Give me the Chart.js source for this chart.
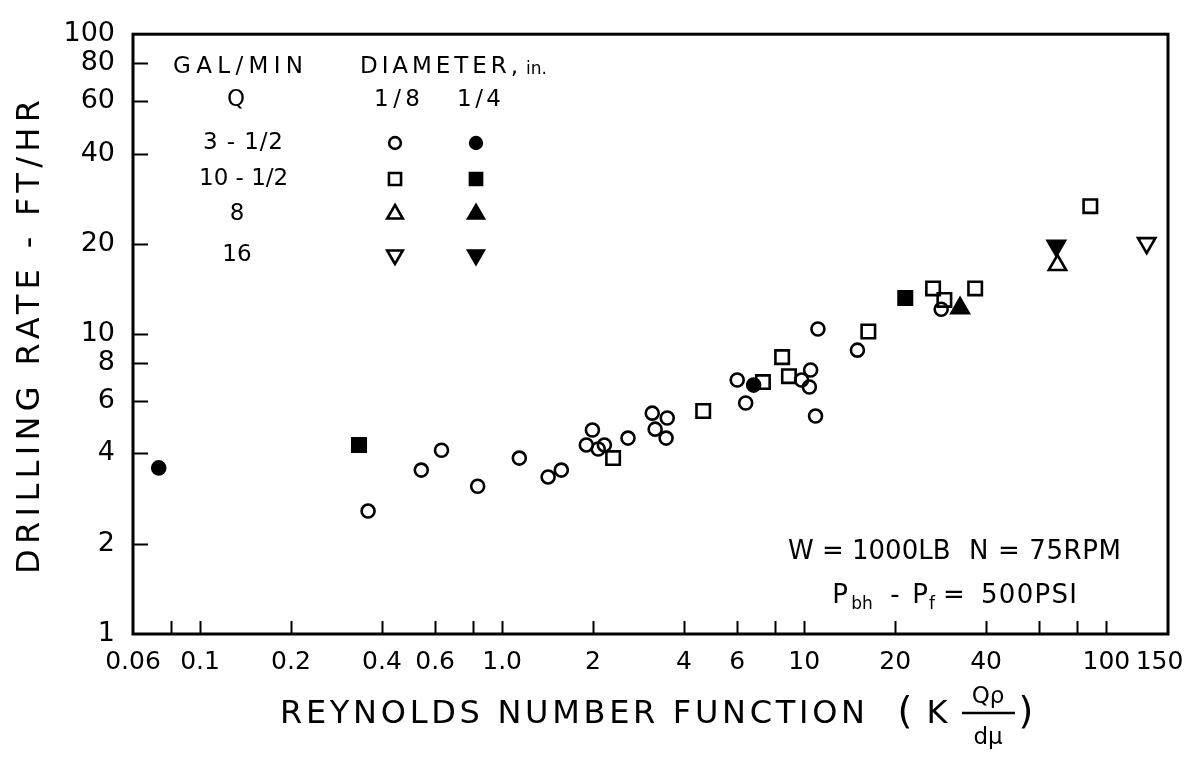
<!DOCTYPE html>
<html>
<head>
<meta charset="utf-8">
<title>Drilling rate vs Reynolds number function</title>
<script src="https://cdn.jsdelivr.net/npm/chart.js@4.4.1/dist/chart.umd.min.js"></script>
<style>
  html, body { margin: 0; padding: 0; background: #fff; }
  #wrap { width: 1200px; height: 763px; }
</style>
</head>
<body>
<div id="wrap"><canvas id="chart" width="1200" height="763"></canvas></div>
<script>
// --- data (x = Reynolds number function, y = drilling rate ft/hr) ---
// Q = 3-1/2 gal/min
const circ18X = [0.36, 0.54, 0.63, 0.83, 1.14, 1.42, 1.57, 1.90, 1.99, 2.08, 2.18, 2.61, 3.14, 3.52, 3.21, 3.49, 6.0, 6.4, 9.8, 10.5, 10.4, 11.1, 10.9, 15.0, 28.4];
const circ18Y = [2.57, 3.52, 4.10, 3.11, 3.86, 3.34, 3.52, 4.27, 4.79, 4.14, 4.27, 4.50, 5.45, 5.25, 4.82, 4.50, 7.03, 5.89, 7.03, 7.59, 6.66, 10.4, 5.33, 8.84, 12.1];
const circ14X = [0.073, 6.8];
const circ14Y = [3.58, 6.76];
// Q = 10-1/2 gal/min
const sq18X = [2.33, 4.63, 7.3, 8.45, 8.9, 16.3, 26.7, 29.1, 36.8, 88.5];
const sq18Y = [3.86, 5.54, 6.92, 8.38, 7.24, 10.2, 14.2, 13.0, 14.2, 26.7];
const sq14X = [0.336, 21.6];
const sq14Y = [4.27, 13.2];
// Q = 8 gal/min
const tri18X = [68.9];
const tri18Y = [17.0];
const tri14X = [32.8];
const tri14Y = [12.2];
// Q = 16 gal/min
const inv18X = [136];
const inv18Y = [20.1];
const inv14X = [68.3];
const inv14Y = [19.7];

// axis ticks
const xLabelVals = [0.06, 0.1, 0.2, 0.4, 0.6, 1, 2, 4, 6, 10, 20, 40, 100, 150];
const xLabelText = ['0.06', '0.1', '0.2', '0.4', '0.6', '1.0', '2', '4', '6', '10', '20', '40', '100', '150'];
const xTickMarks = [0.08, 0.1, 0.2, 0.4, 0.6, 0.8, 1, 2, 4, 6, 8, 10, 20, 40, 60, 80, 100];
const yLabelVals = [1, 2, 4, 6, 8, 10, 20, 40, 60, 80, 100];
const yTickMarks = [2, 4, 6, 8, 10, 20, 40, 60, 80];

// legend key rows
const keyQ = ['3 - 1/2', '10 - 1/2', '8', '16'];

const FONT = "'DejaVu Sans', 'Liberation Sans', sans-serif";

function pts(xs, ys) {
    return xs.map((x, i) => ({ x: x, y: ys[i] }));
}

// marker styles (open = 1/8 in., filled = 1/4 in.)
const styles = {
    circ:  { pointStyle: 'circle',   pointRadius: 6.5, rotation: 0 },
    sq:    { pointStyle: 'rect',     pointRadius: 9.5, rotation: 0 },
    tri:   { pointStyle: 'triangle', pointRadius: 10,  rotation: 0 },
    inv:   { pointStyle: 'triangle', pointRadius: 10,  rotation: 180 }
};

function ds(label, xs, ys, st, filled) {
    return {
        label: label,
        data: pts(xs, ys),
        pointStyle: st.pointStyle,
        pointRadius: st.pointRadius,
        pointHoverRadius: st.pointRadius,
        rotation: st.rotation,
        borderColor: '#000',
        backgroundColor: filled ? '#000' : 'rgba(0,0,0,0)',
        borderWidth: 2.6,
        showLine: false
    };
}

// draw text stretched (by letter spacing) to a given width, starting at x
function spacedText(ctx, str, x, y, width) {
    ctx.letterSpacing = '0px';
    const w = ctx.measureText(str).width;
    const sp = str.length > 1 ? Math.max(0, (width - w) / (str.length - 1)) : 0;
    ctx.letterSpacing = sp + 'px';
    ctx.textAlign = 'left';
    ctx.fillText(str, x, y);
    ctx.letterSpacing = '0px';
}

function keyPoint(ctx, st, filled, x, y) {
    ctx.save();
    ctx.strokeStyle = '#000';
    ctx.fillStyle = filled ? '#000' : 'rgba(0,0,0,0)';
    ctx.lineWidth = 2.6;
    Chart.helpers.drawPoint(ctx, {
        pointStyle: st.pointStyle,
        radius: st.pointRadius * 0.9,
        rotation: st.rotation,
        borderWidth: 2.6
    }, x, y);
    ctx.restore();
}

// frame, inward tick marks, axis titles, key and notes
const decorPlugin = {
    id: 'decor',
    afterDraw(chart) {
        const ctx = chart.ctx;
        const a = chart.chartArea;
        const xs = chart.scales.x;
        const ys = chart.scales.y;
        ctx.save();
        ctx.letterSpacing = '0px';
        ctx.strokeStyle = '#000';
        ctx.fillStyle = '#000';

        // frame
        ctx.lineWidth = 3;
        ctx.strokeRect(a.left, a.top, a.right - a.left, a.bottom - a.top);

        // inward ticks
        ctx.lineWidth = 2;
        ctx.beginPath();
        xTickMarks.forEach(v => {
            const px = Math.round(xs.getPixelForValue(v)) + 0.5;
            ctx.moveTo(px, a.bottom);
            ctx.lineTo(px, a.bottom - 13);
        });
        yTickMarks.forEach(v => {
            const py = Math.round(ys.getPixelForValue(v)) + 0.5;
            ctx.moveTo(a.left, py);
            ctx.lineTo(a.left + 15, py);
        });
        ctx.stroke();

        ctx.textBaseline = 'middle';

        // y title
        ctx.save();
        ctx.translate(31, 337);
        ctx.rotate(-Math.PI / 2);
        ctx.font = '32px ' + FONT;
        spacedText(ctx, 'DRILLING RATE - FT/HR', -237, 0, 474);
        ctx.restore();

        // x title
        ctx.font = '32px ' + FONT;
        spacedText(ctx, 'REYNOLDS NUMBER FUNCTION', 280, 715, 585);
        ctx.font = '38px ' + FONT;
        ctx.textAlign = 'center';
        ctx.fillText('(', 905, 713);
        ctx.fillText(')', 1026, 713);
        ctx.font = '32px ' + FONT;
        ctx.fillText('K', 937, 715);
        ctx.font = '23px ' + FONT;
        ctx.fillText('Q\u03C1', 988, 697);
        ctx.fillText('d\u03BC', 988, 738);
        ctx.lineWidth = 2.5;
        ctx.beginPath();
        ctx.moveTo(962, 713);
        ctx.lineTo(1015, 713);
        ctx.stroke();

        // key
        ctx.font = '23px ' + FONT;
        spacedText(ctx, 'GAL/MIN', 173, 67, 130);
        spacedText(ctx, 'DIAMETER,', 360, 67, 158);
        ctx.font = '17px ' + FONT;
        ctx.textAlign = 'left';
        ctx.fillText('in.', 526, 70);
        ctx.font = '23px ' + FONT;
        ctx.textAlign = 'center';
        ctx.fillText('Q', 236, 100);
        spacedText(ctx, '1/8', 374, 100, 46);
        spacedText(ctx, '1/4', 457, 100, 44);
        const rowY = [143, 179, 214, 255];
        const rowW = [80, 88, 0, 0];
        const rowSt = [styles.circ, styles.sq, styles.tri, styles.inv];
        keyQ.forEach((q, i) => {
            if (rowW[i]) {
                spacedText(ctx, q, 243 - rowW[i] / 2, rowY[i], rowW[i]);
            } else {
                ctx.textAlign = 'center';
                ctx.fillText(q, 237, rowY[i]);
            }
            keyPoint(ctx, rowSt[i], false, 395, rowY[i]);
            keyPoint(ctx, rowSt[i], true, 476, rowY[i]);
        });

        // test conditions
        ctx.font = '26px ' + FONT;
        spacedText(ctx, 'W = 1000LB', 788, 552, 154);
        spacedText(ctx, 'N = 75RPM', 969, 552, 152);
        ctx.textAlign = 'center';
        ctx.fillText('P', 840, 596);
        ctx.fillText('P', 920, 596);
        ctx.fillText('-', 895, 596);
        ctx.fillText('=', 954, 596);
        ctx.font = '17px ' + FONT;
        ctx.fillText('bh', 862, 605);
        ctx.fillText('f', 932, 605);
        ctx.font = '26px ' + FONT;
        spacedText(ctx, '500PSI', 981, 596, 96);

        ctx.restore();
    }
};

new Chart(document.getElementById('chart'), {
    type: 'scatter',
    data: {
        datasets: [
            ds('3-1/2, 1/8 in.', circ18X, circ18Y, styles.circ, false),
            ds('3-1/2, 1/4 in.', circ14X, circ14Y, styles.circ, true),
            ds('10-1/2, 1/8 in.', sq18X, sq18Y, styles.sq, false),
            ds('10-1/2, 1/4 in.', sq14X, sq14Y, styles.sq, true),
            ds('8, 1/8 in.', tri18X, tri18Y, styles.tri, false),
            ds('8, 1/4 in.', tri14X, tri14Y, styles.tri, true),
            ds('16, 1/8 in.', inv18X, inv18Y, styles.inv, false),
            ds('16, 1/4 in.', inv14X, inv14Y, styles.inv, true)
        ]
    },
    options: {
        responsive: false,
        animation: false,
        layout: { padding: { left: 0, right: 32, top: 30, bottom: 0 } },
        plugins: {
            legend: { display: false },
            tooltip: { enabled: false },
            title: { display: false }
        },
        scales: {
            x: {
                type: 'logarithmic',
                position: 'bottom',
                min: 0.06,
                max: 160,
                grid: { display: false, drawTicks: false },
                border: { display: false },
                afterBuildTicks: (s) => {
                    const vals = Array.from(new Set(xLabelVals.concat(xTickMarks))).sort((p, q) => p - q);
                    s.ticks = vals.map(v => ({ value: v }));
                },
                afterFit: (s) => { s.height = 129; },
                ticks: {
                    autoSkip: false,
                    maxRotation: 0,
                    padding: 13,
                    color: '#000',
                    font: { family: FONT, size: 25 },
                    callback: (v) => {
                        const i = xLabelVals.indexOf(v);
                        return i >= 0 ? xLabelText[i] : '';
                    }
                }
            },
            y: {
                type: 'logarithmic',
                position: 'left',
                min: 1,
                max: 100,
                grid: { display: false, drawTicks: false },
                border: { display: false },
                afterBuildTicks: (s) => {
                    s.ticks = yLabelVals.map(v => ({ value: v }));
                },
                afterFit: (s) => { s.width = 133; },
                ticks: {
                    autoSkip: false,
                    padding: 18,
                    color: '#000',
                    font: { family: FONT, size: 27 },
                    callback: (v) => String(v)
                }
            }
        }
    },
    plugins: [decorPlugin]
});
</script>
</body>
</html>
